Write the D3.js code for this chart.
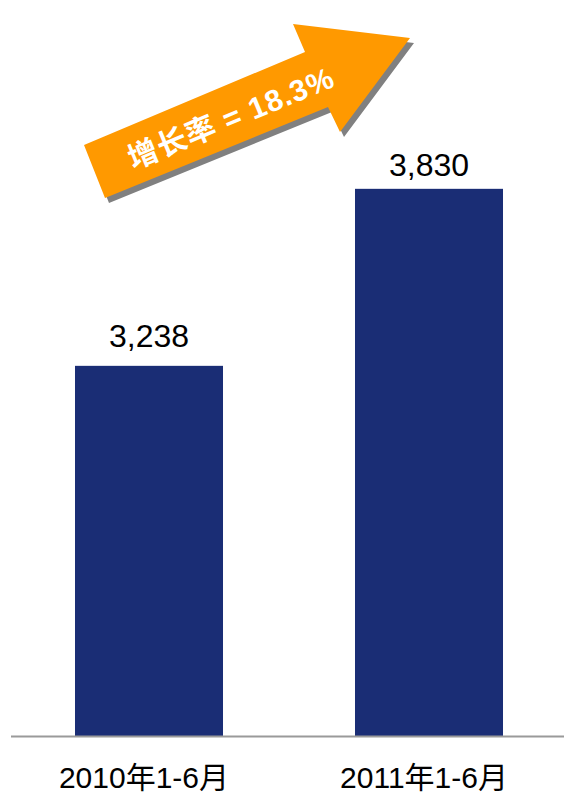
<!DOCTYPE html>
<html>
<head>
<meta charset="utf-8">
<script src="https://cdn.jsdelivr.net/npm/d3@7"></script>
<style>
  html, body { margin: 0; padding: 0; background: #fff; }
  svg { display: block; }
</style>
</head>
<body>
<div id="chart"></div>
<script>
// data
const categories = ['2010年1-6月', '2011年1-6月'];
const values = [3238, 3830];
const growthLabel = '增长率 = 18.3%';

const width = 564, height = 793;
const baseY = 736;

const svg = d3.select('#chart').append('svg')
  .attr('width', width)
  .attr('height', height);

// x: band scale, bars ~148px wide
const x = d3.scaleBand()
  .domain(categories)
  .range([9, 569])
  .paddingInner(0.4714)
  .paddingOuter(0.2357);

// y axis doesn't start at zero in the original
const y = d3.scaleLinear()
  .domain([2000, 4000])
  .range([baseY, 138]);

svg.selectAll('rect.bar')
  .data(values)
  .enter()
  .append('rect')
    .attr('class', 'bar')
    .attr('x', (d, i) => x(categories[i]))
    .attr('y', d => y(d))
    .attr('width', x.bandwidth())
    .attr('height', d => baseY - y(d))
    .style('fill', '#1a2d75');

// value labels
svg.selectAll('text.val')
  .data(values)
  .enter()
  .append('text')
    .attr('class', 'val')
    .attr('x', (d, i) => x(categories[i]) + x.bandwidth() / 2)
    .attr('y', (d, i) => y(d) - (i == 0 ? 19 : 13))
    .attr('text-anchor', 'middle')
    .style('font-family', 'Liberation Sans, Arial, sans-serif')
    .style('font-size', '32px')
    .style('fill', '#000')
    .text(d => d3.format(',')(d));

// baseline
svg.append('line')
  .attr('x1', 11).attr('x2', width)
  .attr('y1', baseY + 0.5).attr('y2', baseY + 0.5)
  .style('stroke', '#9a9a9a')
  .style('stroke-width', 2);

// category labels
svg.selectAll('text.cat')
  .data(categories)
  .enter()
  .append('text')
    .attr('class', 'cat')
    .attr('x', d => x(d) + x.bandwidth() / 2 - 5)
    .attr('y', 788)
    .attr('text-anchor', 'middle')
    .style('font-family', 'Liberation Sans, Arial, "Noto Sans CJK SC", sans-serif')
    .style('font-size', '30px')
    .style('fill', '#000')
    .text(d => d);

// growth arrow
const arrowPts = [[105, 198], [84, 145], [305, 52], [293, 24], [410, 38], [340, 132], [328, 107]];
const line = d3.line();
svg.append('path')
  .attr('d', line(arrowPts) + 'Z')
  .attr('transform', 'translate(4,5)')
  .style('fill', '#808080');
svg.append('path')
  .attr('d', line(arrowPts) + 'Z')
  .style('fill', '#ff9900');

svg.append('text')
  .attr('transform', 'translate(231,118) rotate(-22.5)')
  .attr('text-anchor', 'middle')
  .attr('dy', '0.35em')
  .style('font-family', 'Liberation Sans, Arial, "Noto Sans CJK SC", sans-serif')
  .style('font-weight', 'bold')
  .style('font-size', '30px')
  .style('letter-spacing', '1px')
  .style('fill', '#fff')
  .text(growthLabel);
</script>
</body>
</html>
